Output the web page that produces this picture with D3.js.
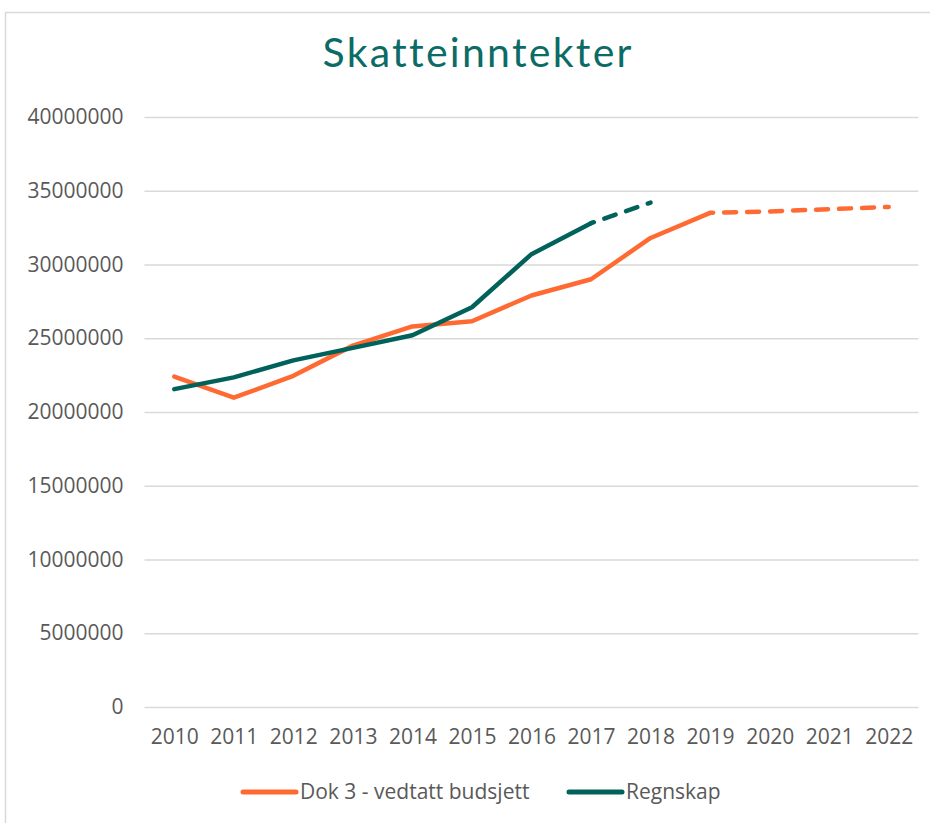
<!DOCTYPE html>
<html>
<head>
<meta charset="utf-8">
<script src="https://cdn.jsdelivr.net/npm/d3@7"></script>
<style>
  body { margin: 0; background: #fff; }
  svg { display: block; }
</style>
</head>
<body>
<svg id="chart" width="930" height="823"></svg>
<script>
// data
var years = ["2010","2011","2012","2013","2014","2015","2016","2017","2018","2019","2020","2021","2022"];
var budsjett = [22400000, 20970000, 22450000, 24500000, 25800000, 26150000, 27900000, 29000000, 31800000, 33500000, 33600000, 33750000, 33900000];
var regnskap = [21550000, 22350000, 23500000, 24350000, 25200000, 27100000, 30700000, 32800000, 34200000, null, null, null, null];
var yTicks = [0, 5000000, 10000000, 15000000, 20000000, 25000000, 30000000, 35000000, 40000000];
var seriesNames = ["Dok 3 - vedtatt budsjett", "Regnskap"];

// where each series switches to dashed (index of the year)
var budsjettDashFrom = 9;   // 2019
var regnskapDashFrom = 7;   // 2017

const svg = d3.select("#chart");
const orange = "#ff6a33";
const green = "#00625b";
const labelColor = "#595959";
const gridColor = "#d9d9d9";

// outer frame (cut off on the right and bottom)
svg.append("rect")
    .attr("x", 5.5).attr("y", 12.5)
    .attr("width", 1000).attr("height", 1000)
    .attr("fill", "none")
    .attr("stroke", gridColor)
    .attr("stroke-width", 1.5);

var x = d3.scalePoint().domain(years).range([144.5, 918.5]).padding(0.5);
var y = d3.scaleLinear().domain([0, 40000000]).range([707, 117]);

// title
svg.append("text")
    .attr("x", 477).attr("y", 67)
    .attr("text-anchor", "middle")
    .attr("font-family", "Lato, 'Open Sans', sans-serif")
    .attr("font-size", 41)
    .attr("fill", "#0b6b66")
    .style("font-variant-ligatures", "none")
    .attr("textLength", 309)
    .attr("lengthAdjust", "spacing")
    .text("Skatteinntekter");

// y axis with gridlines
var yAxis = svg.append("g")
    .attr("transform", "translate(144.5,0)")
    .call(d3.axisLeft(y).tickValues(yTicks).tickFormat(d3.format("d")).tickSize(-774).tickPadding(21));
yAxis.select(".domain").remove();
yAxis.selectAll(".tick line").attr("stroke", gridColor).attr("stroke-width", 1.5);
yAxis.selectAll(".tick text")
    .attr("font-family", "'Open Sans', sans-serif")
    .attr("font-size", 21)
    .attr("fill", labelColor);

// x axis
var xAxis = svg.append("g")
    .attr("transform", "translate(0,707)")
    .call(d3.axisBottom(x).tickSize(0).tickPadding(22));
xAxis.select(".domain").remove();
xAxis.selectAll(".tick text")
    .attr("font-family", "'Open Sans', sans-serif")
    .attr("font-size", 21)
    .attr("fill", labelColor);

var line = d3.line()
    .defined(function(d){ return d.v != null; })
    .x(function(d){ return x(d.year); })
    .y(function(d){ return y(d.v); });

function drawSeries(values, dashFrom, color) {
    var pts = values.map(function(v, i){ return {year: years[i], v: v}; });
    var solid = pts.slice(0, dashFrom + 1);
    var dashed = pts.slice(dashFrom).filter(function(d){ return d.v != null; });
    svg.append("path")
        .datum(solid)
        .attr("d", line)
        .attr("fill", "none")
        .attr("stroke", color)
        .attr("stroke-width", 4.5)
        .attr("stroke-linejoin", "round")
        .attr("stroke-linecap", "round");
    svg.append("path")
        .datum(dashed)
        .attr("d", line)
        .attr("fill", "none")
        .attr("stroke", color)
        .attr("stroke-width", 4.5)
        .attr("stroke-dasharray", "12,11")
        .attr("stroke-dashoffset", -14)
        .attr("stroke-linecap", "round");
}

drawSeries(budsjett, budsjettDashFrom, orange);
drawSeries(regnskap, regnskapDashFrom, green);

// legend
var legend = svg.append("g").attr("class", "legend");
var legendItems = [
    {name: seriesNames[0], color: orange, x: 243},
    {name: seriesNames[1], color: green, x: 569}
];
legendItems.forEach(function(d){
    legend.append("line")
        .attr("x1", d.x).attr("x2", d.x + 53)
        .attr("y1", 792).attr("y2", 792)
        .attr("stroke", d.color)
        .attr("stroke-width", 5)
        .attr("stroke-linecap", "round");
    legend.append("text")
        .attr("x", d.x + 57).attr("y", 799)
        .attr("font-family", "'Open Sans', sans-serif")
        .attr("font-size", 21)
        .attr("fill", labelColor)
        .text(d.name);
});
</script>
</body>
</html>
